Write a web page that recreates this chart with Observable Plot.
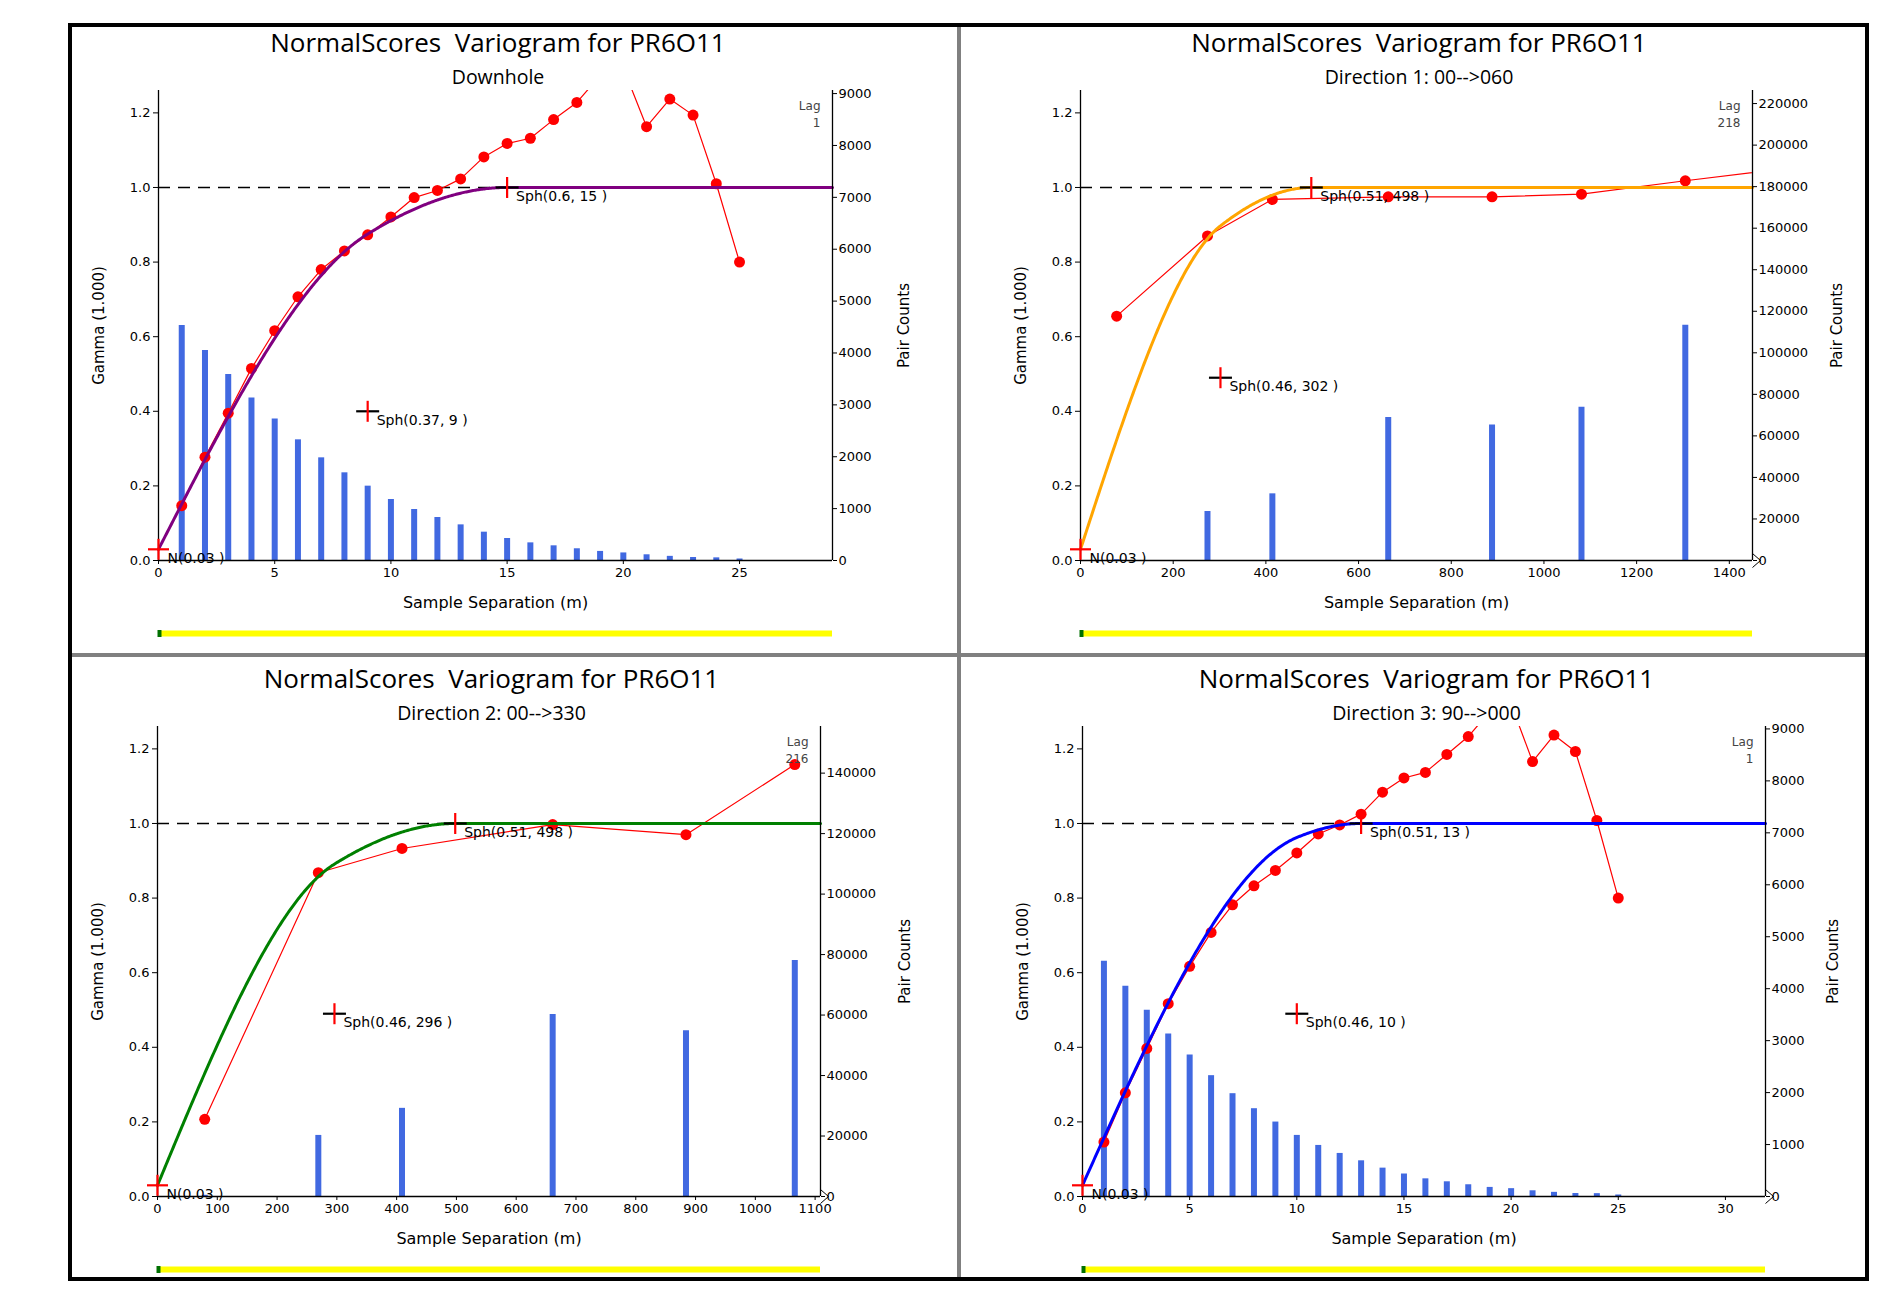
<!DOCTYPE html>
<html>
<head>
<meta charset="utf-8">
<script src="https://cdn.jsdelivr.net/npm/d3@7"></script>
<script src="https://cdn.jsdelivr.net/npm/@observablehq/plot@0.6"></script>
<style>
  body { margin: 0; background: #fff; }
  #root { position: relative; width: 1885px; height: 1300px; overflow: hidden; background: #fff; }
  .title { position: absolute; transform: translate(-50%, -50%); white-space: pre; font-family: "Open Sans", sans-serif; font-size: 26px; line-height: 1; color: #000; z-index: 5; }
  .sub { position: absolute; transform: translate(-50%, -50%); white-space: pre; font-family: "Open Sans", sans-serif; font-size: 19.5px; line-height: 1; color: #000; z-index: 5; }
  .pnl { position: absolute; z-index: 2; }
  .bd { position: absolute; z-index: 6; }
</style>
</head>
<body>
<div id="root"></div>
<script>
// ---------------- data ----------------
const chartTitle = "NormalScores  Variogram for PR6O11";
const gammaTicks = [0, 0.2, 0.4, 0.6, 0.8, 1.0, 1.2];

// Panel 1: Downhole
const dhSubtitle = "Downhole";
const dhLag = [1,2,3,4,5,6,7,8,9,10,11,12,13,14,15,16,17,18,19,20,21,22,23,24,25];
const dhGamma = [0.147,0.277,0.395,0.515,0.616,0.707,0.780,0.830,0.873,0.921,0.973,0.992,1.023,1.082,1.118,1.132,1.182,1.228,1.300,1.320,1.163,1.237,1.194,1.010,0.800];
const dhPairLag = [1,2,3,4,5,6,7,8,9,10,11,12,13,14,15,16,17,18,19,20,21,22,23,24,25];
const dhPairs = [4530,4048,3585,3130,2726,2326,1979,1690,1433,1176,983,829,687,546,424,340,283,226,175,146,110,80,58,51,29];
const dhXTicks = [0,5,10,15,20,25];
const dhPairTicks = [0,1000,2000,3000,4000,5000,6000,7000,8000,9000];
const dhNugget = 0.03;
const dhSills = [0.37, 0.6];
const dhRanges = [9, 15];
const dhLabels = ["N(0.03 )", "Sph(0.37, 9 )", "Sph(0.6, 15 )"];
const dhLagText = "Lag\n1";

// Panel 2: Direction 1
const d1Subtitle = "Direction 1: 00-->060";
const d1Lag = [78, 274, 414, 664, 888, 1081, 1305, 1530];
const d1Gamma = [0.655, 0.870, 0.968, 0.975, 0.975, 0.982, 1.018, 1.052];
const d1PairLag = [78, 274, 414, 664, 888, 1081, 1305];
const d1Pairs = [400, 23600, 32100, 68800, 65300, 73800, 113300];
const d1XTicks = [0,200,400,600,800,1000,1200,1400];
const d1PairTicks = [0,20000,40000,60000,80000,100000,120000,140000,160000,180000,200000,220000];
const d1Nugget = 0.03;
const d1Sills = [0.46, 0.51];
const d1Ranges = [302, 498];
const d1Labels = ["N(0.03 )", "Sph(0.46, 302 )", "Sph(0.51, 498 )"];
const d1LagText = "Lag\n218";

// Panel 3: Direction 2
const d2Subtitle = "Direction 2: 00-->330";
const d2Lag = [79, 269, 409, 661, 884, 1066];
const d2Gamma = [0.207, 0.868, 0.933, 0.997, 0.970, 1.158];
const d2PairLag = [79, 269, 409, 661, 884, 1066];
const d2Pairs = [400, 20200, 29150, 60200, 54780, 78070];
const d2XTicks = [0,100,200,300,400,500,600,700,800,900,1000,1100];
const d2PairTicks = [0,20000,40000,60000,80000,100000,120000,140000];
const d2Nugget = 0.03;
const d2Sills = [0.46, 0.51];
const d2Ranges = [296, 498];
const d2Labels = ["N(0.03 )", "Sph(0.46, 296 )", "Sph(0.51, 498 )"];
const d2LagText = "Lag\n216";

// Panel 4: Direction 3
const d3Subtitle = "Direction 3: 90-->000";
const d3Lag = [1,2,3,4,5,6,7,8,9,10,11,12,13,14,15,16,17,18,19,20,21,22,23,24,25];
const d3Gamma = [0.146,0.278,0.397,0.517,0.617,0.708,0.782,0.833,0.874,0.921,0.972,0.996,1.025,1.084,1.122,1.137,1.185,1.233,1.300,1.320,1.166,1.237,1.193,1.008,0.800];
const d3PairLag = [1,2,3,4,5,6,7,8,9,10,11,12,13,14,15,16,17,18,19,20,21,22,23,24,25];
const d3Pairs = [4530,4048,3585,3130,2726,2326,1979,1690,1433,1176,983,829,687,546,433,340,283,226,175,151,110,80,58,55,29];
const d3XTicks = [0,5,10,15,20,25,30];
const d3PairTicks = [0,1000,2000,3000,4000,5000,6000,7000,8000,9000];
const d3Nugget = 0.03;
const d3Sills = [0.46, 0.51];
const d3Ranges = [10, 13];
const d3Labels = ["N(0.03 )", "Sph(0.46, 10 )", "Sph(0.51, 13 )"];
const d3LagText = "Lag\n1";

// ---------------- layout (frames in page pixels) ----------------
const panels = [
  { sub: dhSubtitle, lag: dhLag, gamma: dhGamma, pairLag: dhPairLag, pairs: dhPairs, xTicks: dhXTicks, pairTicks: dhPairTicks,
    nugget: dhNugget, sills: dhSills, ranges: dhRanges, labels: dhLabels, lagText: dhLagText,
    color: "#800080", xMax: 29, ratio: 7190, frame: [158, 832, 90, 560], pairDx: 72, chevron: false },
  { sub: d1Subtitle, lag: d1Lag, gamma: d1Gamma, pairLag: d1PairLag, pairs: d1Pairs, xTicks: d1XTicks, pairTicks: d1PairTicks,
    nugget: d1Nugget, sills: d1Sills, ranges: d1Ranges, labels: d1Labels, lagText: d1LagText,
    color: "#ffa500", xMax: 1450, ratio: 179600, frame: [1080, 1752, 90, 560], pairDx: 85, chevron: true },
  { sub: d2Subtitle, lag: d2Lag, gamma: d2Gamma, pairLag: d2PairLag, pairs: d2Pairs, xTicks: d2XTicks, pairTicks: d2PairTicks,
    nugget: d2Nugget, sills: d2Sills, ranges: d2Ranges, labels: d2Labels, lagText: d2LagText,
    color: "#008000", xMax: 1109, ratio: 123350, frame: [157, 820, 726, 1196], pairDx: 85, chevron: true },
  { sub: d3Subtitle, lag: d3Lag, gamma: d3Gamma, pairLag: d3PairLag, pairs: d3Pairs, xTicks: d3XTicks, pairTicks: d3PairTicks,
    nugget: d3Nugget, sills: d3Sills, ranges: d3Ranges, labels: d3Labels, lagText: d3LagText,
    color: "#0000ff", xMax: 31.87, ratio: 7180, frame: [1082, 1765, 726, 1196], pairDx: 68, chevron: true }
];

// custom line symbols for the structure markers
const hbar = { draw(ctx, size) { const r = Math.sqrt(size / Math.PI); ctx.moveTo(-r, 0); ctx.lineTo(r, 0); } };
const vbar = { draw(ctx, size) { const r = Math.sqrt(size / Math.PI); ctx.moveTo(0, -r); ctx.lineTo(0, r); } };
const chev = { draw(ctx) { ctx.moveTo(0, -7); ctx.lineTo(8, 0); ctx.lineTo(0, 7); } };

// spherical variogram model from the stated parameters
function sph(h, a) { return h >= a ? 1 : 1.5 * h / a - 0.5 * Math.pow(h / a, 3); }

const ML = 100, MR = 115, MT = 20, MB = 90;
const root = document.getElementById("root");

function makePanel(cfg) {
  const [x0, x1, y0, y1] = cfg.frame;
  const width = (x1 - x0) + ML + MR;
  const height = (y1 - y0) + MT + MB;
  const xMax = cfg.xMax, ratio = cfg.ratio;
  const pts = cfg.lag.map((x, i) => ({ x, g: cfg.gamma[i] }));
  const bars = cfg.pairLag.map((x, i) => ({ x, c: cfg.pairs[i] }));
  const model = d3.range(0, 601).map(i => {
    const h = i / 600 * xMax;
    let g = cfg.nugget;
    cfg.sills.forEach((c, k) => { g += c * sph(h, cfg.ranges[k]); });
    return { h, g };
  });
  let cum = cfg.nugget;
  const markers = [{ x: 0, y: cfg.nugget, label: cfg.labels[0], n: true }];
  cfg.sills.forEach((c, k) => { cum += c; markers.push({ x: cfg.ranges[k], y: cum, label: cfg.labels[k + 1], n: false }); });
  const nMarks = markers.filter(d => d.n), sMarks = markers.filter(d => !d.n);

  const marks = [
    Plot.ruleX(bars, { x: "x", y1: 0, y2: d => d.c / ratio, stroke: "#4169e1", strokeWidth: 6 }),
    Plot.ruleY([1], { x1: 0, x2: xMax, stroke: "#000", strokeWidth: 1.5, strokeDasharray: "12,8" }),
    Plot.line(pts, { x: "x", y: "g", stroke: "#ff0000", strokeWidth: 1.2, clip: true }),
    Plot.dot(pts, { x: "x", y: "g", r: 5.5, fill: "#ff0000", stroke: "none", clip: true }),
    Plot.line(model, { x: "h", y: "g", stroke: cfg.color, strokeWidth: 3 }),
    Plot.ruleX([0], { stroke: "#000", strokeWidth: 1.3 }),
    Plot.ruleX([xMax], { stroke: "#000", strokeWidth: 1.3 }),
    Plot.ruleY([0], { stroke: "#000", strokeWidth: 1.3 }),
    Plot.axisY(gammaTicks, { anchor: "left", tickFormat: d3.format(".1f"), tickSize: 5, tickPadding: 3, label: null }),
    Plot.axisY(cfg.pairTicks.map(c => c / ratio), { anchor: "right", tickFormat: d => String(Math.round(d * ratio / 1000) * 1000), tickSize: 4, tickPadding: 2, label: null }),
    Plot.axisX(cfg.xTicks, { tickSize: 4, tickPadding: 3, tickFormat: d => String(d), label: null }),
    Plot.dot(sMarks, { x: "x", y: "y", symbol: hbar, r: 11.5, stroke: "#000", strokeWidth: 2.2, fill: "none" }),
    Plot.dot(nMarks, { x: "x", y: "y", symbol: hbar, r: 10.5, stroke: "#ff0000", strokeWidth: 2.2, fill: "none" }),
    Plot.dot(markers, { x: "x", y: "y", symbol: vbar, r: 10.5, stroke: "#ff0000", strokeWidth: 2.2, fill: "none" }),
    Plot.text(markers, { x: "x", y: "y", text: "label", textAnchor: "start", dx: 9, dy: 9, fontSize: 14, fill: "#000" }),
    Plot.text([cfg.lagText], { text: d => d, frameAnchor: "top-right", dx: -12, dy: 8, textAnchor: "end", lineAnchor: "top", fontSize: 12, lineHeight: 1.4, fill: "#444" }),
    Plot.text(["Gamma (1.000)"], { text: d => d, frameAnchor: "left", textAnchor: "middle", dx: -59, rotate: -90, fontSize: 15, fill: "#000" }),
    Plot.text(["Pair Counts"], { text: d => d, frameAnchor: "right", textAnchor: "middle", dx: cfg.pairDx, rotate: -90, fontSize: 15, fill: "#000" }),
    Plot.text(["Sample Separation (m)"], { text: d => d, frameAnchor: "bottom", dy: 47, fontSize: 16, fill: "#000" }),
    Plot.ruleY([0], { x1: 0, x2: xMax, stroke: "#ffff00", strokeWidth: 6, dy: 73 }),
    Plot.dot([0], { x: 0, y: 0, symbol: vbar, r: 3.5, stroke: "#007000", strokeWidth: 4, fill: "none", dx: 1, dy: 73 })
  ];
  if (cfg.chevron) marks.push(Plot.dot([0], { x: xMax, y: 0, symbol: chev, r: 5, stroke: "#000", strokeWidth: 1, fill: "none" }));

  const svg = Plot.plot({
    width, height, marginLeft: ML, marginRight: MR, marginTop: MT, marginBottom: MB,
    x: { domain: [0, xMax] },
    y: { domain: [0, 1.26] },
    style: { fontFamily: "DejaVu Sans", fontSize: "13px", color: "#000", background: "transparent", overflow: "visible", maxWidth: "none" },
    marks
  });
  svg.classList.add("pnl");
  svg.style.left = (x0 - ML) + "px";
  svg.style.top = (y0 - MT) + "px";
  root.appendChild(svg);

  const cx = (x0 + x1) / 2 + 3;
  const t = document.createElement("div");
  t.className = "title"; t.textContent = chartTitle;
  t.style.left = cx + "px"; t.style.top = (y0 - 48) + "px";
  root.appendChild(t);
  const s = document.createElement("div");
  s.className = "sub"; s.textContent = cfg.sub;
  s.style.left = cx + "px"; s.style.top = (y0 - 13) + "px";
  root.appendChild(s);
}

panels.forEach(makePanel);

// panel borders
function box(l, t, w, h, css) { const d = document.createElement("div"); d.className = "bd"; Object.assign(d.style, { left: l + "px", top: t + "px", width: w + "px", height: h + "px" }, css); root.appendChild(d); }
box(957, 25, 4, 1254, { background: "#808080" });
box(70, 653, 1797, 4, { background: "#808080" });
box(68, 23, 1801, 1258, { border: "4px solid #000", boxSizing: "border-box" });
</script>
</body>
</html>
